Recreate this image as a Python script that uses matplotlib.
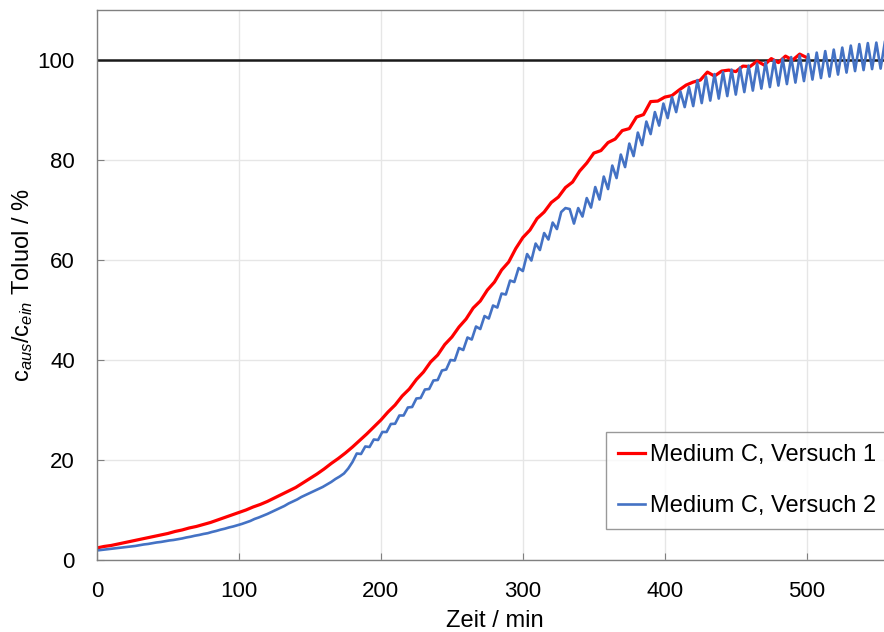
import numpy as np
import matplotlib.pyplot as plt

plt.rcParams['font.family'] = ['Liberation Sans', 'DejaVu Sans']
plt.rcParams['mathtext.fontset'] = 'custom'
plt.rcParams['mathtext.rm'] = 'Liberation Sans'
plt.rcParams['mathtext.it'] = 'Liberation Sans:italic'

# Medium C, Versuch 1 (alle 5 min)
t_v1 = np.arange(0, 501, 5)
c_v1 = [2.4, 2.7, 2.9, 3.2, 3.5, 3.8, 4.1, 4.4, 4.7, 5.0,
        5.3, 5.7, 6.0, 6.4, 6.7, 7.1, 7.5, 8.0, 8.5, 9.0,
        9.5, 10.0, 10.6, 11.1, 11.7, 12.4, 13.1, 13.8, 14.5, 15.4,
        16.3, 17.2, 18.2, 19.3, 20.3, 21.4, 22.6, 23.9, 25.2, 26.6,
        28.0, 29.6, 31.0, 32.8, 34.2, 36.1, 37.6, 39.6, 41.0, 43.1,
        44.6, 46.6, 48.2, 50.4, 51.8, 54.0, 55.6, 58.0, 59.6, 62.3,
        64.5, 66.0, 68.3, 69.6, 71.5, 72.6, 74.5, 75.6, 77.8, 79.4,
        81.4, 81.9, 83.5, 84.2, 85.9, 86.3, 88.6, 89.1, 91.7, 91.8,
        92.6, 92.9, 94.0, 95.0, 95.6, 96.0, 97.6, 96.8, 97.8, 98.0,
        97.7, 98.8, 98.7, 99.8, 99.0, 100.3, 99.5, 100.8, 100.0, 101.2,
        100.5]

# Medium C, Versuch 2 (alle 3 min)
t_v2 = np.arange(0, 556, 3)
c_v2 = [1.9, 2.0, 2.1, 2.2, 2.3, 2.4, 2.5, 2.6, 2.7, 2.8,
        2.95, 3.1, 3.2, 3.35, 3.5, 3.6, 3.75, 3.9, 4.0, 4.15,
        4.3, 4.5, 4.65, 4.85, 5.0, 5.2, 5.35, 5.6, 5.8, 6.05,
        6.25, 6.5, 6.7, 6.95, 7.2, 7.5, 7.8, 8.2, 8.5, 8.85,
        9.2, 9.6, 10.0, 10.4, 10.8, 11.3, 11.7, 12.1, 12.6, 13.0,
        13.4, 13.8, 14.2, 14.6, 15.1, 15.6, 16.2, 16.7, 17.3, 18.3,
        19.6, 21.3, 21.2, 22.7, 22.6, 24.1, 24.0, 25.6, 25.6, 27.2,
        27.25, 28.9, 28.9, 30.5, 30.6, 32.3, 32.4, 34.1, 34.2, 35.9,
        36.0, 37.9, 38.1, 40.0, 39.9, 42.4, 42.0, 44.5, 44.1, 46.7,
        46.2, 48.8, 48.3, 50.9, 50.5, 53.3, 53.1, 55.9, 55.6, 58.4,
        57.8, 61.2, 59.9, 63.3, 62.0, 65.4, 64.1, 67.5, 66.2, 69.6,
        70.4, 70.2, 67.3, 70.4, 68.7, 72.4, 70.5, 74.6, 72.1, 76.7,
        74.2, 78.9, 76.4, 81.1, 78.6, 83.3, 80.8, 85.5, 83.0, 87.7,
        85.2, 89.6, 86.9, 91.3, 88.4, 92.6, 89.6, 93.7, 90.6, 94.6,
        90.8, 96.0, 91.4, 96.7, 91.9, 97.2, 92.3, 97.6, 92.8, 98.1,
        93.1, 98.5, 93.6, 98.9, 93.9, 99.3, 94.3, 99.6, 94.6, 100.0,
        94.9, 100.3, 95.2, 100.6, 95.5, 100.9, 95.8, 101.2, 96.1, 101.5,
        96.4, 101.8, 96.7, 102.1, 97.1, 102.5, 97.5, 102.9, 97.8, 103.2,
        98.0, 103.4, 98.2, 103.5, 98.3, 103.6]

fig = plt.figure(figsize=(8.84, 6.32), dpi=100)
ax = fig.add_axes([0.1097, 0.114, 0.8993, 0.870])

ax.plot(t_v1, c_v1, color='#ff0000', lw=2.3, label='Medium C, Versuch 1')
ax.plot(t_v2, c_v2, color='#4472c4', lw=1.9, label='Medium C, Versuch 2')
ax.axhline(100, color='#1a1a1a', lw=1.8, zorder=1)

ax.set_xlim(0, 560)
ax.set_ylim(0, 110)
ax.set_xticks([0, 100, 200, 300, 400, 500])
ax.set_yticks([0, 20, 40, 60, 80, 100])
ax.grid(True, color='#e6e6e6', lw=1.0, zorder=0)
ax.set_axisbelow(True)

for side in ['left', 'bottom', 'top']:
    ax.spines[side].set_color('#808080')
    ax.spines[side].set_linewidth(1.0)
ax.spines['right'].set_visible(False)

ax.tick_params(direction='in', length=5, color='#808080', labelsize=16, pad=16)
ax.tick_params(axis='x', pad=15)

ax.set_xlabel('Zeit / min', fontsize=17, labelpad=6)
ax.set_ylabel(r'c$_{\mathit{aus}}$/c$_{\mathit{ein}}$ Toluol / %', fontsize=17, labelpad=2)

leg = ax.legend(loc='lower right', bbox_to_anchor=(0.995, 0.056), fontsize=17,
                frameon=True, fancybox=False, edgecolor='#808080',
                handlelength=1.15, handletextpad=0.2, labelspacing=1.25,
                borderpad=0.5, borderaxespad=0)
leg.get_frame().set_linewidth(1.0)

fig.savefig('out.png', dpi=100)
